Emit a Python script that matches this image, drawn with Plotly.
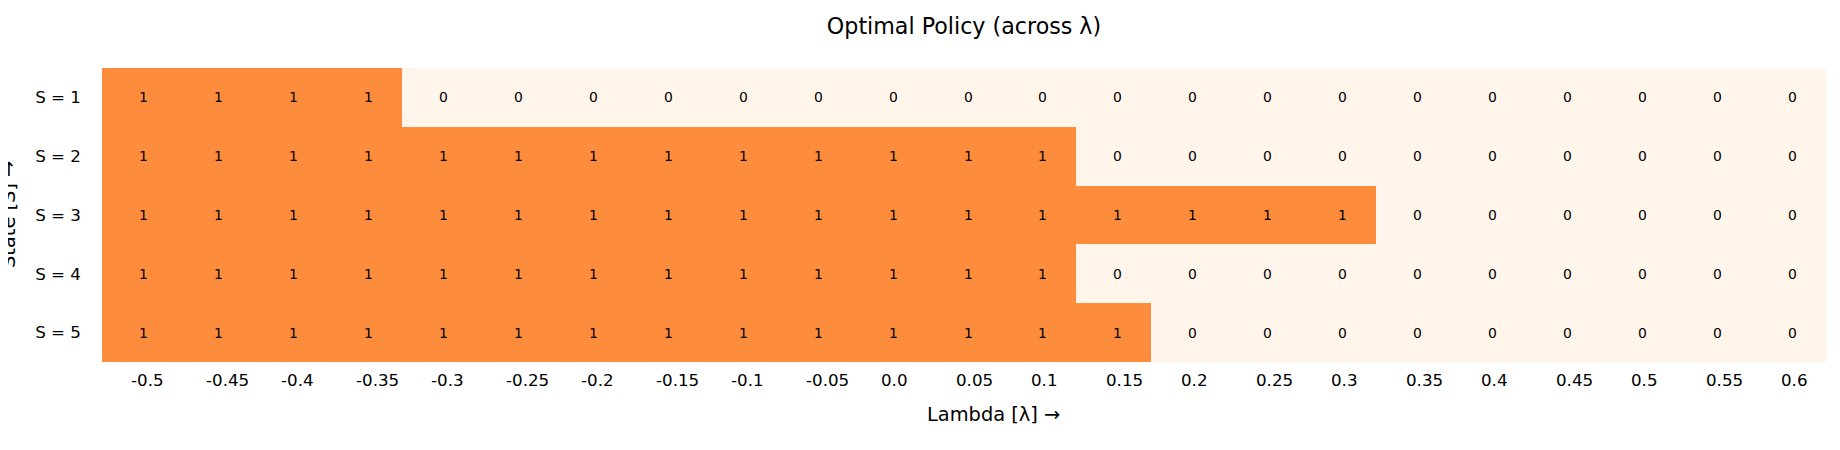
import plotly.graph_objects as go

# lambda values (column labels) and states (row labels)
lambdas = ["-0.5", "-0.45", "-0.4", "-0.35", "-0.3", "-0.25", "-0.2", "-0.15",
           "-0.1", "-0.05", "0.0", "0.05", "0.1", "0.15", "0.2", "0.25", "0.3",
           "0.35", "0.4", "0.45", "0.5", "0.55", "0.6"]
states = ["S = 1", "S = 2", "S = 3", "S = 4", "S = 5"]

# optimal action per state, across lambda
policy_s1 = [1, 1, 1, 1, 0, 0, 0, 0, 0, 0, 0, 0, 0, 0, 0, 0, 0, 0, 0, 0, 0, 0, 0]
policy_s2 = [1, 1, 1, 1, 1, 1, 1, 1, 1, 1, 1, 1, 1, 0, 0, 0, 0, 0, 0, 0, 0, 0, 0]
policy_s3 = [1, 1, 1, 1, 1, 1, 1, 1, 1, 1, 1, 1, 1, 1, 1, 1, 1, 0, 0, 0, 0, 0, 0]
policy_s4 = [1, 1, 1, 1, 1, 1, 1, 1, 1, 1, 1, 1, 1, 0, 0, 0, 0, 0, 0, 0, 0, 0, 0]
policy_s5 = [1, 1, 1, 1, 1, 1, 1, 1, 1, 1, 1, 1, 1, 1, 0, 0, 0, 0, 0, 0, 0, 0, 0]

z = [policy_s1, policy_s2, policy_s3, policy_s4, policy_s5]

# page body has an 8px margin, so the figure is a bit smaller than the window
W, H = 1832, 442
ML, MR, MT, MB = 94, 14, 60, 88
FONT = "DejaVu Sans"

fig = go.Figure(
    go.Heatmap(
        z=z,
        x=lambdas,
        y=states,
        colorscale=[[0, "#fff5eb"], [1, "#fd8d3c"]],
        zmin=0,
        zmax=1,
        showscale=False,
        hoverinfo="skip",
    )
)

plot_w = W - ML - MR

annotations = []

# cell values (slightly right of centre, as in the original)
for r, row in enumerate(z):
    for c, v in enumerate(row):
        annotations.append(dict(
            x=c, xref="x", y=r, yref="y",
            text=str(v), showarrow=False, xshift=4,
            font=dict(family=FONT, size=13.9, color="black"),
        ))

# x tick labels, left anchored like the original
for i, lam in enumerate(lambdas):
    annotations.append(dict(
        x=i, xref="x", y=0, yref="paper",
        text=lam, showarrow=False,
        xanchor="left", yanchor="middle",
        xshift=-10, yshift=-18,
        font=dict(family=FONT, size=16.7, color="black"),
    ))

# axis titles
annotations.append(dict(
    x=(985 - ML) / plot_w, xref="paper", y=0, yref="paper",
    text="Lambda [λ] →", showarrow=False,
    xanchor="center", yanchor="middle", yshift=-52,
    font=dict(family=FONT, size=19.4, color="black"),
))
annotations.append(dict(
    x=(0 - ML) / plot_w, xref="paper", y=0.5, yref="paper",
    text="State [S] →", showarrow=False, textangle=-90,
    xanchor="center", yanchor="middle",
    font=dict(family=FONT, size=19.4, color="black"),
))

fig.update_layout(
    width=W,
    height=H,
    margin=dict(l=ML, r=MR, t=MT, b=MB),
    paper_bgcolor="white",
    plot_bgcolor="white",
    title=dict(
        text="Optimal Policy (across λ)",
        x=0.5, xref="paper", xanchor="center",
        y=1 - 18 / H, yref="container", yanchor="middle",
        font=dict(family=FONT, size=22.2, color="black"),
    ),
    xaxis=dict(type="category", showticklabels=False, showgrid=False,
               zeroline=False, ticks="", automargin=False),
    yaxis=dict(
        type="category", autorange="reversed", showgrid=False, zeroline=False,
        ticks="", automargin=False,
        ticklabelstandoff=20,
        tickfont=dict(family=FONT, size=16.7, color="black"),
    ),
    annotations=annotations,
)

fig.write_html("out.html")
